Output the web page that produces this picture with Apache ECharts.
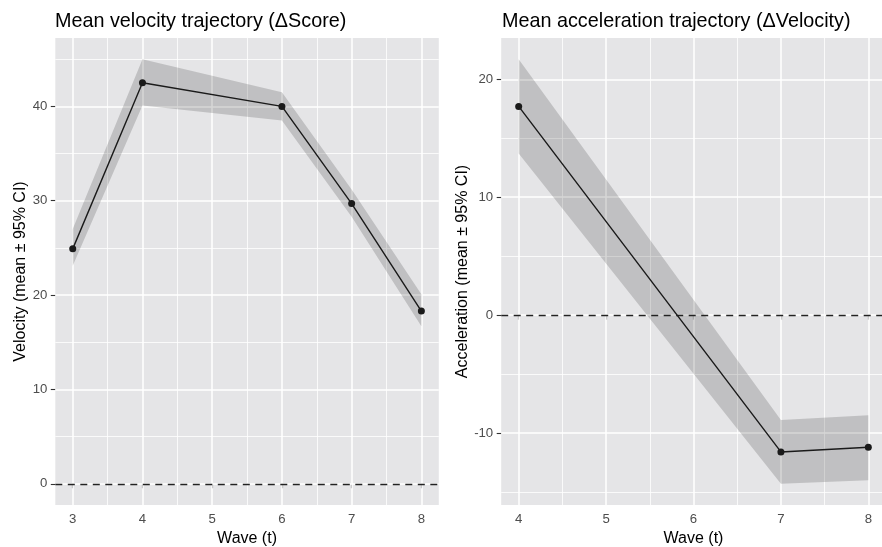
<!DOCTYPE html>
<html>
<head>
<meta charset="utf-8">
<script src="https://cdn.jsdelivr.net/npm/echarts@6/dist/echarts.min.js"></script>
<style>html,body{margin:0;padding:0;background:#fff}#c{width:882px;height:547px}</style>
</head>
<body>
<div id="c"></div>
<script>
// ---- Data ----
const leftWaves = [3, 4, 6, 7, 8];
const leftMean  = [24.9, 42.5, 40.0, 29.7, 18.3];
const leftLower = [23.1, 40.1, 38.5, 28.3, 16.7];
const leftUpper = [27.0, 45.0, 41.5, 31.2, 20.1];

const rightWaves = [4, 7, 8];
const rightMean  = [17.7, -11.6, -11.2];
const rightLower = [13.7, -14.3, -14.0];
const rightUpper = [21.7, -8.9, -8.5];

const leftXTicks  = [3, 4, 5, 6, 7, 8];
const leftYTicks  = [0, 10, 20, 30, 40];
const rightXTicks = [4, 5, 6, 7, 8];
const rightYTicks = [-10, 0, 10, 20];

const leftXMinor  = [3.5, 4.5, 5.5, 6.5, 7.5];
const leftYMinor  = [5, 15, 25, 35, 45];
const rightXMinor = [4.5, 5.5, 6.5, 7.5];
const rightYMinor = [-15, -5, 5, 15];

const titles = ['Mean velocity trajectory (\u0394Score)', 'Mean acceleration trajectory (\u0394Velocity)'];
const xName = 'Wave (t)';
const yNames = ['Velocity (mean \u00b1 95% CI)', 'Acceleration (mean \u00b1 95% CI)'];

// ---- Styles ----
const FONT = 'Liberation Sans, Arial, Helvetica, sans-serif';
const panelBg = '#E5E5E7';

function xAxisCfg(idx, min, max, ticks) {
  return {
    type: 'value', gridIndex: idx, min: min, max: max,
    name: xName, nameLocation: 'middle', nameGap: 22,
    nameTextStyle: {fontSize: 16, color: '#000', fontFamily: FONT},
    axisLine: {show: false},
    axisTick: {show: true, customValues: ticks, length: 4.5, lineStyle: {color: '#333', width: 1.1}},
    axisLabel: {customValues: ticks, color: '#4D4D4D', fontSize: 13.2, fontFamily: FONT, margin: 7.5},
    splitLine: {show: false}, minorSplitLine: {show: false}
  };
}
function yAxisCfg(idx, min, max, ticks, name, gap) {
  return {
    type: 'value', gridIndex: idx, min: min, max: max,
    name: name, nameLocation: 'middle', nameGap: gap, nameRotate: 90,
    nameTextStyle: {fontSize: 16, color: '#000', fontFamily: FONT},
    axisLine: {show: false},
    axisTick: {show: true, customValues: ticks, length: 4.5, lineStyle: {color: '#333', width: 1.1}},
    axisLabel: {customValues: ticks, color: '#4D4D4D', fontSize: 13.2, fontFamily: FONT, margin: 8},
    splitLine: {show: false}
  };
}
function gridSeries(idx, xMajor, yMajor, xMinor, yMinor) {
  const d = [];
  yMinor.forEach(v => d.push({yAxis: v, lineStyle: {color: '#fff', width: 0.8, type: 'solid'}}));
  xMinor.forEach(v => d.push({xAxis: v, lineStyle: {color: '#fff', width: 0.8, type: 'solid'}}));
  yMajor.forEach(v => d.push({yAxis: v, lineStyle: {color: '#fff', width: 1.5, type: 'solid'}}));
  xMajor.forEach(v => d.push({xAxis: v, lineStyle: {color: '#fff', width: 1.5, type: 'solid'}}));
  return {
    type: 'line', xAxisIndex: idx, yAxisIndex: idx, data: [], z: 1, silent: true,
    markLine: {z: 1, silent: true, symbol: ['none', 'none'], label: {show: false}, animation: false, data: d}
  };
}
function ribbonSeries(idx, xs, lo, hi) {
  return {
    type: 'custom', xAxisIndex: idx, yAxisIndex: idx, z: 2, silent: true,
    data: xs.map((x, i) => [x, lo[i], hi[i]]),
    encode: {x: 0, y: [1, 2]},
    renderItem: function (params, api) {
      if (params.dataIndex !== 0) return;
      const pts = [];
      for (let i = 0; i < xs.length; i++) pts.push(api.coord([xs[i], hi[i]]));
      for (let i = xs.length - 1; i >= 0; i--) pts.push(api.coord([xs[i], lo[i]]));
      return {type: 'polygon', shape: {points: pts}, style: {fill: 'rgba(0,0,0,0.16)'}};
    }
  };
}
function zeroSeries(idx) {
  return {
    type: 'line', xAxisIndex: idx, yAxisIndex: idx, data: [], z: 3, silent: true,
    markLine: {z: 3, silent: true, symbol: ['none', 'none'], label: {show: false}, animation: false,
      data: [{yAxis: 0, lineStyle: {color: '#222', width: 1.3, type: [7, 5.5]}}]}
  };
}
function meanSeries(idx, xs, ys) {
  return {
    type: 'line', xAxisIndex: idx, yAxisIndex: idx, z: 10,
    data: xs.map((x, i) => [x, ys[i]]),
    lineStyle: {color: '#1A1A1A', width: 1.4},
    symbol: 'circle', symbolSize: 7, showSymbol: true,
    itemStyle: {color: '#1A1A1A', borderWidth: 0}, animation: false
  };
}

const chart = echarts.init(document.getElementById('c'), null, {renderer: 'canvas'});
chart.setOption({
  animation: false,
  backgroundColor: '#fff',
  title: [
    {text: titles[0], left: 50, top: 7, textStyle: {fontSize: 19.8, fontWeight: 'normal', color: '#000', fontFamily: FONT}},
    {text: titles[1], left: 497, top: 7, textStyle: {fontSize: 19.8, fontWeight: 'normal', color: '#000', fontFamily: FONT}}
  ],
  grid: [
    {left: 55.3, top: 38, width: 383.5, height: 467, show: true, backgroundColor: panelBg, borderWidth: 0, containLabel: false, outerBoundsMode: 'none'},
    {left: 501.2, top: 38, width: 384.6, height: 467, show: true, backgroundColor: panelBg, borderWidth: 0, containLabel: false, outerBoundsMode: 'none'}
  ],
  xAxis: [
    xAxisCfg(0, 2.75, 8.25, leftXTicks),
    xAxisCfg(1, 3.8, 8.2, rightXTicks)
  ],
  yAxis: [
    yAxisCfg(0, -2.25, 47.25, leftYTicks, yNames[0], 27),
    yAxisCfg(1, -16.1, 23.5, rightYTicks, yNames[1], 30)
  ],
  series: [
    gridSeries(0, leftXTicks, leftYTicks, leftXMinor, leftYMinor),
    gridSeries(1, rightXTicks, rightYTicks, rightXMinor, rightYMinor),
    ribbonSeries(0, leftWaves, leftLower, leftUpper),
    ribbonSeries(1, rightWaves, rightLower, rightUpper),
    zeroSeries(0),
    zeroSeries(1),
    meanSeries(0, leftWaves, leftMean),
    meanSeries(1, rightWaves, rightMean)
  ]
});
</script>
</body>
</html>
